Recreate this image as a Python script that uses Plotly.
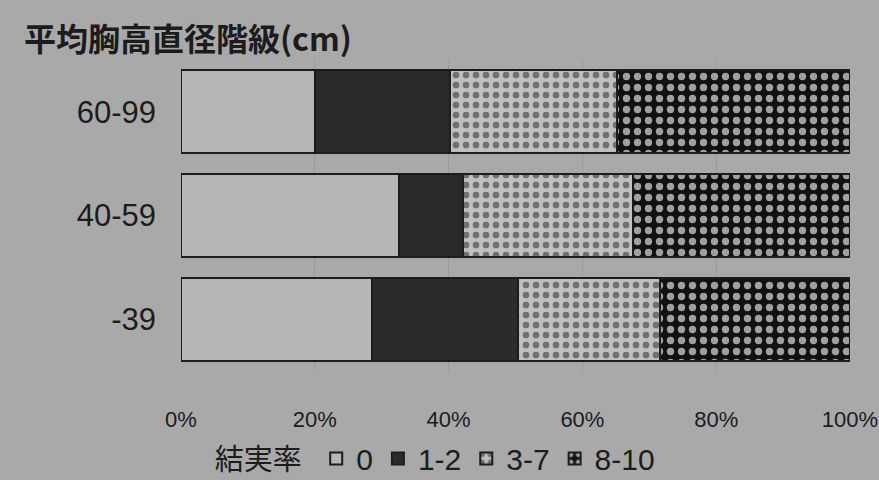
import plotly.graph_objects as go

# Diameter classes (bottom to top) and fruiting-rate shares (%)
classes = ["-39", "40-59", "60-99"]
series_names = ["0", "1-2", "3-7", "8-10"]
share_0 = [28.6, 32.6, 20.0]
share_1_2 = [21.7, 9.5, 20.2]
share_3_7 = [21.3, 25.4, 25.0]
share_8_10 = [28.4, 32.5, 34.8]
x_ticks = [0, 20, 40, 60, 80, 100]
x_tick_text = ["0%", "20%", "40%", "60%", "80%", "100%"]

BG = "#a9a9a9"
INK = "#1c1c1c"
LATIN = "Liberation Sans, Arial, sans-serif"
CJK = "Noto Sans CJK JP, Noto Sans CJK SC, sans-serif"

styles = [
    dict(color="#b6b6b6"),
    dict(color="#2a2a2a"),
    dict(color="#bfbfbf",
         pattern=dict(shape=".", bgcolor="#c0c0c0", fgcolor="#707070",
                      size=10, solidity=0.35, fillmode="replace")),
    dict(color="#101010",
         pattern=dict(shape=".", bgcolor="#111111", fgcolor="#a0a0a0",
                      size=11, solidity=0.35, fillmode="replace")),
]

fig = go.Figure()
for name, vals, st in zip(series_names, [share_0, share_1_2, share_3_7, share_8_10], styles):
    fig.add_trace(go.Bar(
        y=classes, x=vals, name=name, orientation="h",
        marker=dict(line=dict(color=INK, width=2), **st),
        hoverinfo="x+y+name",
    ))

fig.update_layout(
    width=879, height=480,
    margin=dict(l=181, r=29, t=60, b=109, autoexpand=False),
    paper_bgcolor=BG, plot_bgcolor=BG,
    barmode="stack", bargap=0.2,
    font=dict(family=LATIN, color=INK),
    legend=dict(
        orientation="h", traceorder="normal",
        xref="container", yref="container",
        x=0.242, xanchor="left", y=0.045, yanchor="middle",
        title=dict(text="結実率 ", font=dict(family=CJK, size=29, color=INK)),
        font=dict(family=LATIN, size=30, color=INK),
        bgcolor="rgba(0,0,0,0)", itemwidth=30,
    ),
    xaxis=dict(
        range=[0, 100], tickvals=x_ticks, ticktext=x_tick_text,
        showgrid=True, gridcolor="#9a9a9a", gridwidth=1,
        zeroline=False, showline=False, ticks="",
        tickfont=dict(family=LATIN, size=22, color=INK),
        ticklabelstandoff=33, ticklabeloverflow="allow", fixedrange=True,
    ),
    yaxis=dict(
        showgrid=False, zeroline=False, showline=False, ticks="",
        tickfont=dict(family=LATIN, size=31, color=INK),
        ticklabelstandoff=24, fixedrange=True,
    ),
    annotations=[dict(
        text="平均胸高直径階級(cm)", xref="paper", yref="paper",
        x=-0.238, y=1.074, xanchor="left", yanchor="middle", showarrow=False,
        font=dict(family=CJK, size=32, color=INK, weight="bold"),
    )],
)

fig.write_html("out.html")
